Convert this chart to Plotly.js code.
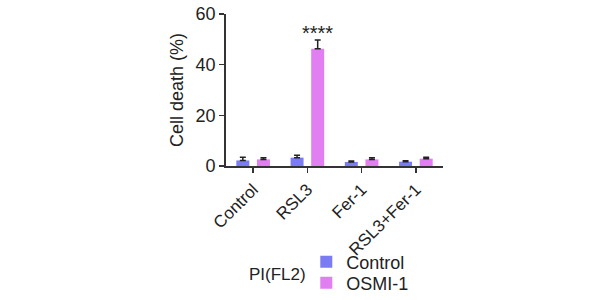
<!DOCTYPE html>
<html><head><meta charset="utf-8">
<script src="https://cdn.plot.ly/plotly-3.0.1.min.js"></script>
<style>html,body{margin:0;padding:0;background:#fff}#chart{width:600px;height:300px}</style>
</head><body><div id="chart"></div>
<script>
const categories = ["Control", "RSL3", "Fer-1", "RSL3+Fer-1"];
const seriesNames = ["Control", "OSMI-1"];
const controlValues = [2.2, 3.3, 1.6, 1.7];
const controlErrors = [1.3, 0.9, 0.4, 0.4];
const osmiValues = [2.6, 46.3, 2.6, 2.9];
const osmiErrors = [0.7, 3.4, 0.7, 0.6];
const yTicks = [0, 20, 40, 60];
const significance = "****";
const legendTitle = "PI(FL2)";

const font = "Liberation Sans, Arial, sans-serif";
const traces = [
  {type: "bar", name: seriesNames[0], x: categories, y: controlValues, legend: "legend",
   marker: {color: "#7b7cf4"},
   error_y: {type: "data", symmetric: false, array: controlErrors, arrayminus: controlErrors.map(() => 0), color: "#222", thickness: 1.5, width: 3}},
  {type: "bar", name: seriesNames[1], x: categories, y: osmiValues, legend: "legend2",
   marker: {color: "#e07ef2"},
   error_y: {type: "data", symmetric: false, array: osmiErrors, arrayminus: osmiErrors.map(() => 0), color: "#222", thickness: 1.5, width: 3}}
];
const legendCommon = {xanchor: "left", yanchor: "middle", font: {size: 18, family: font}, bgcolor: "rgba(0,0,0,0)"};
const layout = {
  width: 600, height: 300,
  margin: {l: 226, r: 157, t: 14, b: 134, autoexpand: false},
  barmode: "group", bargap: 0.24, bargroupgap: 0.37,
  paper_bgcolor: "#fff", plot_bgcolor: "#fff",
  font: {family: font, color: "#222", size: 18},
  showlegend: true,
  legend: Object.assign({x: 0.37, y: -0.632}, legendCommon),
  legend2: Object.assign({x: 0.37, y: -0.77}, legendCommon),
  xaxis: {type: "category", range: [-0.5, 3.5], showline: true, linecolor: "#333", linewidth: 1.8,
          ticks: "outside", ticklen: 5, tickcolor: "#333", tickwidth: 1.5, tickangle: -45,
          tickfont: {size: 17}, showgrid: false, zeroline: false, automargin: false},
  yaxis: {range: [0, 60], tickvals: yTicks, showline: true, linecolor: "#333", linewidth: 1.8,
          ticks: "outside", ticklen: 5, tickcolor: "#333", tickwidth: 1.5,
          tickfont: {size: 18}, showgrid: false, zeroline: false, automargin: false,
          title: {text: "Cell death (%)", font: {size: 18}, standoff: 7}},
  annotations: [
    {x: categories[1], y: osmiValues[1] + osmiErrors[1], xref: "x", yref: "y", text: significance,
     showarrow: false, yanchor: "bottom", xshift: 10, yshift: -6, font: {size: 20}},
    {xref: "paper", yref: "paper", x: 0.097, y: -0.717, text: legendTitle, showarrow: false,
     xanchor: "left", yanchor: "middle", font: {size: 17}}
  ]
};
Plotly.newPlot("chart", traces, layout, {displayModeBar: false, staticPlot: true});
</script></body></html>
